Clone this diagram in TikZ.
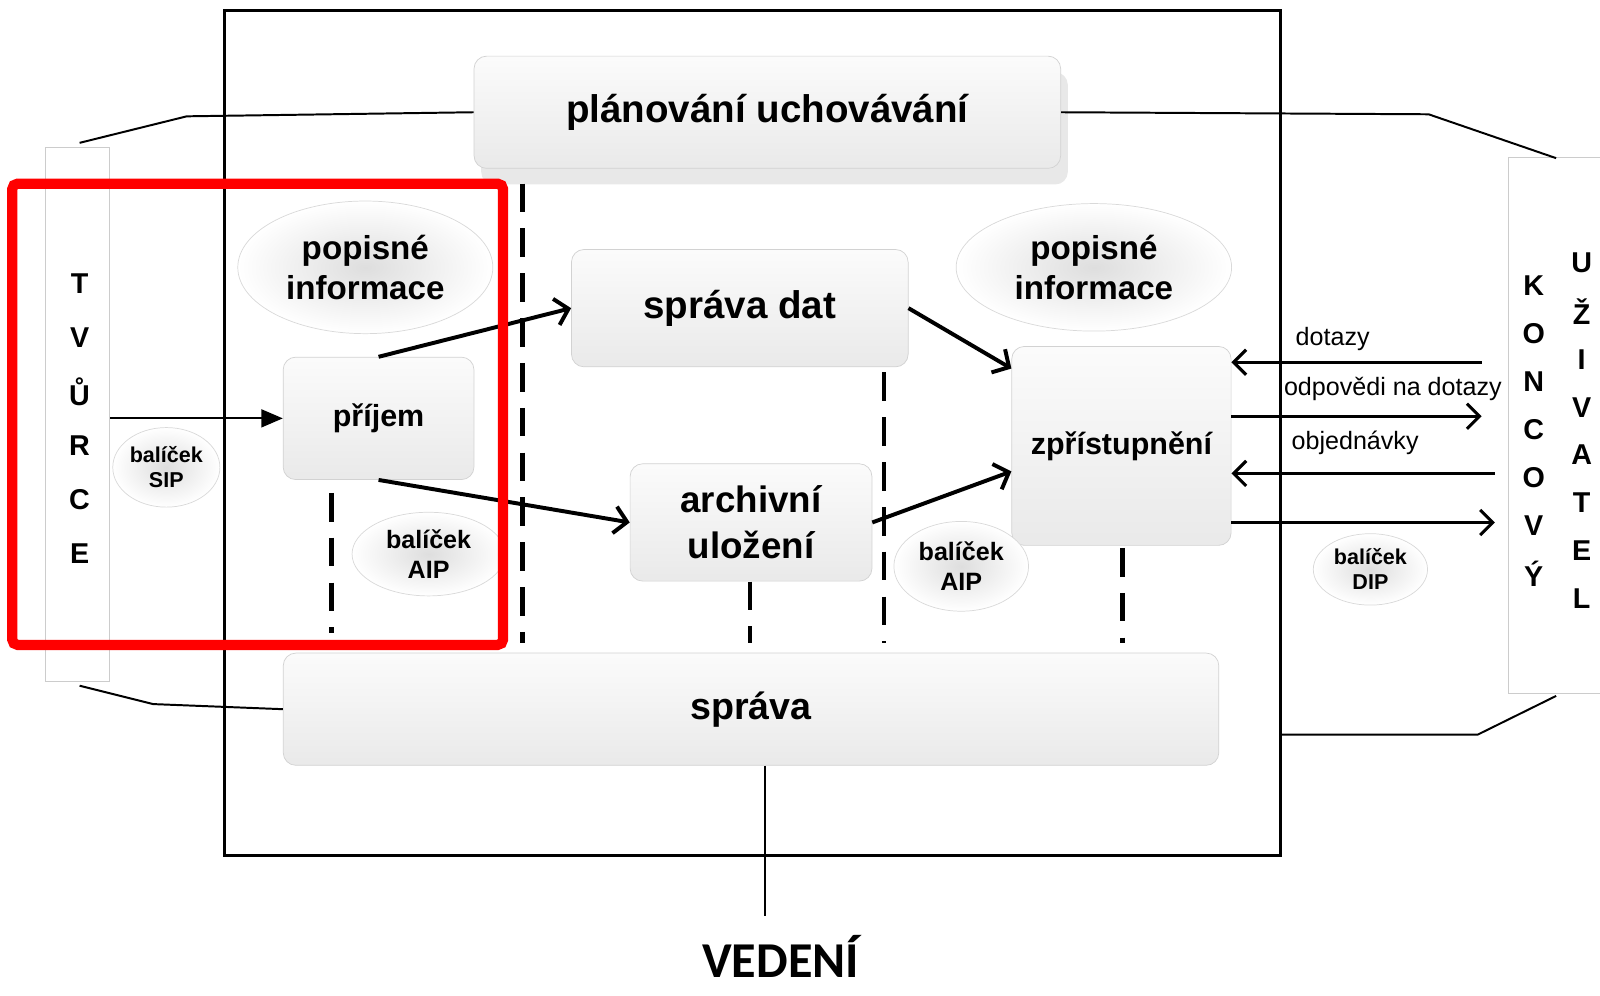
\documentclass[tikz,border=0pt]{standalone}
\usepackage{fontspec}
\setmainfont{Liberation Sans}
\newfontfamily\vedenifont{Carlito}
\usetikzlibrary{arrows.meta,shadows,shapes.geometric,calc}

\begin{document}
\begin{tikzpicture}[x=0.02cm, y=-0.02cm,
        blok/.style={draw=gray!35, rounded corners=7pt, top color=gray!3, bottom color=gray!17, align=center, inner sep=0pt},
        bublina/.style={ellipse, draw=gray!30, inner color=gray!26, outer color=white, align=center, inner sep=0pt},
        pismeno/.style={font=\bfseries\fontsize{16}{16}\selectfont},
        popisek/.style={font=\fontsize{14}{14}\selectfont},
        sipka/.style={line width=2.2pt, -{Straight Barb[length=7pt,width=15pt]}},
        tenkasipka/.style={line width=1.7pt, -{Straight Barb[length=7pt,width=14pt]}},
        carkovane/.style={line width=2.4pt, dash pattern=on 16pt off 9pt},
        cara/.style={line width=1.1pt}]
    \useasboundingbox (0,0) rectangle (1568,976);

    % Ramec
    \draw[line width=1.7pt] (220,10) rectangle (1255,838);

    % Bloky
    \node[blok, minimum width=11.5cm, minimum height=2.2cm, font=\bfseries\fontsize{21.5}{24}\selectfont,
        drop shadow={shadow xshift=4pt, shadow yshift=-9pt, fill=gray!60, opacity=0.3}] (plan) at (752,110) {plánování uchovávání};
    \foreach \jm/\x/\y/\w/\h/\vel/\bs/\txt in {
            prijem/371/410/3.74/2.4/17/20/příjem,
            spravadat/725/302/6.6/2.3/21.5/24/{správa dat},
            archiv/736/512/4.74/2.3/20.5/25.6/{archivní\\uložení},
            zpr/1099/437/4.3/3.9/17/20/zpřístupnění,
            sprava/736/695/18.34/2.2/21/24/správa} {
            \node[blok, minimum width=\w cm, minimum height=\h cm, font=\bfseries\fontsize{\vel}{\bs}\selectfont] (\jm) at (\x,\y) {\txt};
        }

    % Bubliny
    \foreach \jm/\x/\y/\w/\h/\vel/\bs/\txt in {
            popis1/358/262/5/2.6/18.5/22/{popisné\\informace},
            popis2/1072/262/5.4/2.5/18.5/22/{popisné\\informace},
            sip/163/458/2.1/1.56/12/13.7/{balíček\\SIP},
            aipa/420/543/3.0/1.64/14/17/{balíček\\AIP},
            aipb/942/555/2.64/1.76/14/17/{balíček\\AIP},
            dip/1343/558/2.24/1.4/12/14/{balíček\\DIP}} {
            \node[bublina, minimum width=\w cm, minimum height=\h cm, font=\bfseries\fontsize{\vel}{\bs}\selectfont] (\jm) at (\x,\y) {\txt};
        }

    % Tvurce a koncovy uzivatel
    \node[draw=gray!40, line width=0.6pt, minimum width=1.26cm, minimum height=10.46cm] (tvurce) at (76,406) {};
    \node[draw=gray!40, line width=0.6pt, minimum width=2.2cm, minimum height=10.5cm, anchor=west] (uzivatel) at (1478,417) {};
    \foreach \i/\p in {0/T, 1/V, 2/Ů, 3/R, 4/C, 5/E} {
            \node[pismeno] (tv\i) at (78,{278+53*\i}) {\p};
        }
    \foreach \i/\p in {0/K, 1/O, 2/N, 3/C, 4/O, 5/V, 6/Ý} {
            \node[pismeno] (ko\i) at (1503,{280+47*\i}) {\p};
        }
    \foreach \i/\p in {0/U, 1/Ž, 2/I, 3/V, 4/A, 5/T, 6/E, 7/L} {
            \node[pismeno] (uz\i) at (1550,{258+47*\i}) {\p};
        }

    % Cary k ramci
    \draw[cara] (78,140) -- (183,114) -- (plan.west);
    \draw[cara] (plan.east) -- (1400,112) -- (1525,155);
    \draw[cara] (78,672) -- (150,690) -- (sprava.west);
    \draw[cara] (1255,720) -- (1448,720) -- (1525,682);

    % Vedeni
    \node[font=\vedenifont\bfseries\fontsize{28}{28}\selectfont, anchor=base, inner sep=0pt, text depth=0pt] (vedeni) at (765,958) {VEDENÍ};
    \coordinate (vedenitop) at (750,898);
    \draw[cara] (sprava.south -| vedenitop) -- (vedenitop);

    % Carkovane predely
    \foreach \x/\a/\b in {325/483/620, 512/180/630, 735/570/630, 866/365/630, 1100/537/630} {
            \draw[carkovane] (\x,\a) -- (\x,\b);
        }

    % Sipky
    \draw[line width=1.1pt, -{Triangle[length=12pt,width=10pt]}] (tvurce.east |- prijem.west) -- (prijem.west);
    \draw[sipka] (prijem.north) -- (spravadat.west);
    \draw[sipka] (prijem.south) -- (archiv.west);
    \draw[sipka] (spravadat.east) -- ($(zpr.north west)+(0,22)$);
    \draw[sipka] (archiv.east) -- ($(zpr.west)+(0,25)$);

    % Dotazy a odpovedi
    \foreach \i/\x/\y in {1/1452/355, 2/1452/408, 3/1465/464, 4/1465/512} {
            \coordinate (k\i) at (\x,\y);
        }
    \draw[tenkasipka] (k1) -- (zpr.east |- k1);
    \draw[tenkasipka] (zpr.east |- k2) -- (k2);
    \draw[tenkasipka] (k3) -- (zpr.east |- k3);
    \draw[tenkasipka] (zpr.east |- k4) -- (k4);
    \node[popisek] (dotazy) at (1306,332) {dotazy};
    \node[popisek] (odpovedi) at (1365,381) {odpovědi na dotazy};
    \node[popisek] (objednavky) at (1328,434) {objednávky};

    % Vyznaceni
    \draw[red, line width=5.7pt, rounded corners=3pt] (12,180) rectangle (493,632);
\end{tikzpicture}
\end{document}
